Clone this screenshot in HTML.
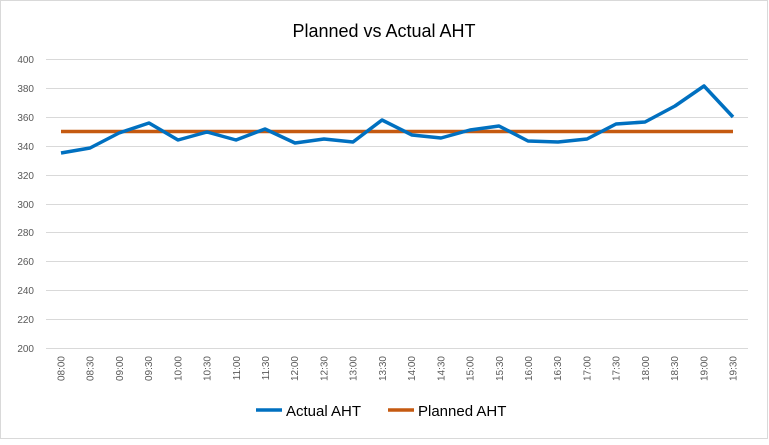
<!DOCTYPE html>
<html><head><style>body{margin:0;background:#fff}</style></head><body>
<svg width="769" height="440" xmlns="http://www.w3.org/2000/svg" font-family="Liberation Sans, sans-serif">
<rect x="0.5" y="0.5" width="767" height="438" fill="#fff" stroke="#d9d9d9"/>
<text x="384" y="37" text-anchor="middle" font-size="18" fill="#000">Planned vs Actual AHT</text>
<g stroke="#d9d9d9" stroke-width="1">
<line x1="46" x2="748" y1="59.5" y2="59.5"/><line x1="46" x2="748" y1="88.5" y2="88.5"/><line x1="46" x2="748" y1="117.5" y2="117.5"/><line x1="46" x2="748" y1="146.5" y2="146.5"/><line x1="46" x2="748" y1="175.5" y2="175.5"/><line x1="46" x2="748" y1="204.5" y2="204.5"/><line x1="46" x2="748" y1="232.5" y2="232.5"/><line x1="46" x2="748" y1="261.5" y2="261.5"/><line x1="46" x2="748" y1="290.5" y2="290.5"/><line x1="46" x2="748" y1="319.5" y2="319.5"/><line x1="46" x2="748" y1="348.5" y2="348.5"/>
</g>
<g font-size="10" fill="#595959" text-anchor="end">
<text x="34" y="63">400</text><text x="34" y="92">380</text><text x="34" y="121">360</text><text x="34" y="150">340</text><text x="34" y="179">320</text><text x="34" y="208">300</text><text x="34" y="236">280</text><text x="34" y="265">260</text><text x="34" y="294">240</text><text x="34" y="323">220</text><text x="34" y="352">200</text>
</g>
<g font-size="10" fill="#595959" text-anchor="end" id="xl"></g>
<line x1="61" x2="733" y1="131.5" y2="131.5" stroke="#c55a11" stroke-width="3.5"/>
<polyline fill="none" stroke="#0070c0" stroke-width="3.5" stroke-linejoin="round" points="61,153 90,148 119,133 149,123 178,140 207,132 236,140 265,129 295,143 324,139 353,142 382,120 412,135 441,138 470,130 499,126 528,141 558,142 587,139 616,124 645,122 675,106 704,86 733,117"/>
<line x1="256" x2="282" y1="410" y2="410" stroke="#0070c0" stroke-width="3.5"/>
<text x="286" y="416" font-size="15" fill="#000">Actual AHT</text>
<line x1="388" x2="414" y1="410" y2="410" stroke="#c55a11" stroke-width="3.5"/>
<text x="418" y="416" font-size="15" fill="#000">Planned AHT</text>
</svg>
<script>
var g=document.getElementById('xl'),s='';
for(var i=0;i<24;i++){var h=8+Math.floor(i/2),m=i%2?'30':'00';var x=61+i*29.217;
var t=(h<10?'0':'')+h+':'+m;
s+='<text transform="translate('+(x+3.5)+',356) rotate(-90)">'+t+'</text>';}
g.innerHTML=s;
</script>
</body></html>
